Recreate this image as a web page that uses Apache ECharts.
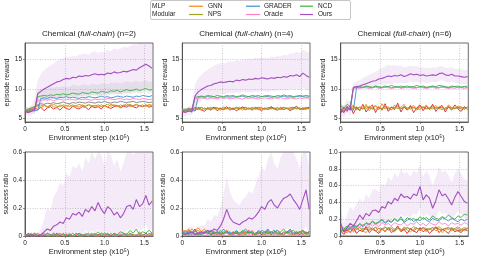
<!DOCTYPE html>
<html><head><meta charset="utf-8">
<script src="https://cdn.jsdelivr.net/npm/echarts@6/dist/echarts.min.js"></script>
<style>html,body{margin:0;padding:0;background:#fff}#c{width:479px;height:260px}</style>
</head><body><div id="c"></div>
<script>
// ---------------- data ----------------
const STEPS = [0,0.04,0.08,0.12,0.16,0.2,0.24,0.28,0.32,0.36,0.4,0.44,0.48,0.52,0.56,0.6,0.64,0.68,0.72,0.76,0.8,0.84,0.88,0.92,0.96,1.0,1.04,1.08,1.12,1.16,1.2,1.24,1.28,1.32,1.36,1.4,1.44,1.48,1.52,1.56,1.6];
const METHODS = ['MLP','Modular','GNN','NPS','GRADER','Oracle','NCD','Ours'];
const X_TICKS = [0, 0.5, 1.0, 1.5];

// episode reward, n=2
const r2_mlp     = [6.4,6.6,6.8,7.0,7.3,7.5,7.4,7.6,7.5,7.7,7.5,7.6,7.8,7.6,7.5,7.7,7.6,7.8,7.7,7.6,7.8,7.7,7.6,7.8,7.7,7.9,7.7,7.6,7.8,7.7,7.9,7.8,7.7,7.8,7.9,7.7,7.8,7.9,7.8,7.7,7.8];
const r2_modular = [6.2,6.0,6.5,6.8,6.5,6.9,6.3,6.8,7.0,6.6,6.9,6.4,7.0,6.7,6.5,7.1,6.8,6.6,7.0,6.9,6.5,7.1,6.8,7.0,6.6,7.2,6.9,6.7,7.0,7.2,6.8,7.1,6.9,7.3,7.0,6.8,7.2,7.0,7.3,6.9,7.1];
const r2_gnn     = [6.4,6.6,6.3,6.9,7.1,6.8,7.2,6.9,7.3,7.0,6.8,7.3,7.1,6.9,7.4,7.0,7.2,6.9,7.3,7.1,7.4,6.9,7.2,7.0,7.3,7.1,6.9,7.4,7.2,7.0,7.3,7.1,7.5,7.0,7.2,7.4,7.1,7.3,7.0,7.4,7.2];
const r2_nps     = [6.5,6.4,6.7,7.0,7.2,7.1,7.3,7.0,7.2,7.4,7.1,7.0,7.3,7.2,7.0,7.3,7.1,7.4,7.2,7.0,7.3,7.2,7.1,7.3,7.0,7.2,7.4,7.1,7.3,7.2,7.0,7.3,7.2,7.4,7.1,7.3,7.2,7.0,7.3,7.1,7.2];
const r2_grader  = [6.4,6.2,6.5,6.3,6.4,8.4,8.5,8.4,8.6,8.5,8.4,8.6,8.5,8.7,8.5,8.6,8.5,8.4,8.6,8.5,8.7,8.6,8.5,8.6,8.8,8.6,8.7,8.5,8.6,8.8,8.7,8.6,8.8,8.7,8.6,8.8,8.7,8.9,8.8,8.7,8.9];
const r2_oracle  = [6.5,6.3,6.6,6.5,8.0,8.1,8.2,8.1,8.2,8.0,8.2,8.3,8.1,8.2,8.3,8.2,8.1,8.3,8.2,8.3,8.2,8.1,8.3,8.2,8.3,8.2,8.4,8.3,8.2,8.3,8.4,8.2,8.3,8.2,8.4,8.3,8.2,8.4,8.3,8.2,8.3];
const r2_ncd     = [6.5,6.3,6.6,6.4,8.7,8.8,8.9,8.8,9.0,8.9,9.1,9.0,9.2,9.0,9.1,9.3,9.2,9.1,9.4,9.3,9.2,9.5,9.4,9.3,9.6,9.5,9.4,9.7,9.6,9.8,9.5,9.7,9.9,9.7,9.8,10.0,9.7,9.9,10.1,9.8,9.9];
const r2_ncd_hi  = [7.0,6.8,7.1,7.0,9.8,10.0,10.1,10.0,10.3,10.2,10.4,10.3,10.5,10.3,10.4,10.7,10.6,10.5,10.8,10.7,10.6,10.9,10.8,10.7,11.0,10.9,10.8,11.1,11.0,11.2,10.9,11.1,11.3,11.1,11.2,11.4,11.1,11.3,11.5,11.2,11.3];
const r2_ncd_lo  = [6.0,5.8,6.1,5.9,8.1,8.2,8.3,8.2,8.4,8.3,8.5,8.4,8.6,8.4,8.5,8.7,8.6,8.5,8.8,8.7,8.6,8.9,8.8,8.7,9.0,8.9,8.8,9.1,9.0,9.2,8.9,9.1,9.3,9.1,9.2,9.4,9.1,9.3,9.5,9.2,9.3];
const r2_ours    = [6.3,6.0,6.2,6.4,9.2,9.6,10.0,10.3,10.6,10.9,11.2,11.3,11.6,11.8,11.7,12.0,11.9,12.2,12.1,12.3,12.2,12.4,12.6,12.4,12.5,12.4,12.7,12.6,12.9,12.7,12.8,13.0,12.9,13.1,13.3,13.2,13.6,13.9,14.2,13.9,13.5];
const r2_ours_hi = [6.8,6.8,7.2,8.5,11.5,12.5,13.2,13.6,14.0,14.3,14.8,15.0,15.2,15.5,15.3,15.6,15.5,15.8,15.9,16.0,15.8,16.2,16.4,16.1,16.3,16.2,16.6,16.4,16.9,16.7,16.8,17.2,17.0,17.3,17.6,17.5,17.8,17.8,17.8,17.8,17.8];
const r2_ours_lo = [5.8,5.4,5.6,5.8,7.2,7.4,7.8,8.0,8.2,8.4,8.5,8.5,8.6,8.8,8.7,8.9,8.7,8.9,8.8,9.0,8.9,9.0,9.1,8.9,9.0,8.9,9.2,9.1,9.3,9.1,9.2,9.4,9.2,9.4,9.6,9.4,9.8,10.0,10.2,9.9,9.6];

// episode reward, n=4
const r4_mlp     = [6.3,6.5,6.7,6.6,6.8,6.7,6.9,6.6,6.8,6.7,6.9,6.8,6.6,6.9,6.7,6.8,6.6,6.9,6.7,6.8,6.9,6.6,6.8,6.7,6.9,6.8,6.6,6.8,6.9,6.7,6.8,6.6,6.9,6.7,6.8,6.9,6.7,6.8,6.6,6.9,6.8];
const r4_modular = [6.0,6.4,6.2,6.7,6.3,6.9,6.5,6.2,6.8,6.4,6.9,6.3,6.7,6.5,7.0,6.4,6.8,6.3,6.6,7.0,6.5,6.8,6.4,6.9,6.6,6.3,6.8,6.5,7.0,6.6,6.4,6.9,6.5,6.8,6.3,6.7,7.1,6.5,6.8,6.6,6.9];
const r4_gnn     = [6.6,6.3,6.8,6.5,6.9,6.6,6.4,6.8,6.5,6.9,6.6,6.8,6.4,6.7,6.6,6.9,6.5,6.7,6.9,6.4,6.8,6.6,6.9,6.5,6.7,6.8,6.5,6.9,6.6,6.8,6.4,6.7,6.9,6.6,6.8,6.5,6.9,6.7,6.5,6.8,6.6];
const r4_nps     = [6.5,6.6,6.4,6.7,6.6,6.5,6.8,6.6,6.7,6.5,6.7,6.6,6.8,6.5,6.7,6.6,6.5,6.8,6.6,6.7,6.5,6.7,6.6,6.8,6.5,6.6,6.7,6.5,6.7,6.6,6.8,6.5,6.6,6.7,6.5,6.8,6.6,6.7,6.5,6.6,6.7];
const r4_grader  = [6.4,6.2,6.5,6.3,6.3,8.6,8.7,8.6,8.7,8.6,8.7,8.5,8.7,8.6,8.7,8.6,8.7,8.6,8.7,8.8,8.6,8.7,8.6,8.7,8.6,8.7,8.8,8.7,8.6,8.7,8.6,8.7,8.8,8.6,8.7,8.6,8.7,8.8,8.7,8.6,8.7];
const r4_oracle  = [6.4,6.3,6.5,6.4,8.3,8.4,8.5,8.4,8.3,8.5,8.4,8.3,8.5,8.4,8.5,8.3,8.4,8.5,8.4,8.3,8.5,8.4,8.5,8.4,8.3,8.4,8.5,8.4,8.3,8.5,8.4,8.5,8.4,8.3,8.5,8.4,8.3,8.5,8.4,8.5,8.4];
const r4_ncd     = [6.5,6.3,6.6,6.5,8.6,8.7,8.8,8.7,8.9,8.8,8.7,8.9,8.8,8.7,8.9,8.8,8.9,8.7,8.8,9.0,8.8,8.7,8.9,8.8,8.9,8.7,8.8,8.9,8.8,8.7,8.9,8.8,9.0,8.8,8.9,8.7,8.8,8.9,8.8,8.9,8.8];
const r4_ours    = [6.2,6.0,6.3,6.1,8.8,9.5,9.9,10.2,10.5,10.6,10.9,11.0,11.2,11.1,11.2,11.3,11.2,11.5,11.4,11.6,11.5,11.7,11.6,11.8,11.7,11.9,11.8,11.7,11.9,11.8,12.0,11.9,12.1,12.0,12.3,12.2,12.4,12.1,12.7,12.3,12.0];
const r4_ours_hi = [6.9,6.7,7.0,7.2,10.8,11.8,12.4,12.9,13.3,13.6,14.0,14.2,14.4,14.3,14.5,14.7,14.6,14.9,14.8,15.0,14.9,15.2,15.1,15.3,15.2,15.4,15.3,15.2,15.5,15.4,15.6,15.5,15.8,15.7,16.0,16.0,16.3,16.1,16.6,16.4,16.2];
const r4_ours_lo = [5.6,5.4,5.7,5.5,7.0,7.6,8.0,8.3,8.6,8.7,8.9,9.0,9.2,9.1,9.2,9.3,9.2,9.4,9.3,9.5,9.4,9.5,9.4,9.6,9.5,9.7,9.6,9.5,9.7,9.6,9.8,9.7,9.8,9.7,10.0,9.9,10.0,9.8,10.2,9.9,9.7];

// episode reward, n=6
const r6_mlp     = [6.6,6.9,6.5,6.8,7.0,6.7,6.9,6.6,7.0,6.8,6.6,7.1,6.8,6.7,7.0,6.6,6.9,6.8,7.1,6.7,6.9,6.6,7.0,6.8,6.7,7.0,6.9,6.6,6.8,7.1,6.7,6.9,6.8,6.6,7.0,6.8,6.7,6.9,6.6,6.8,6.9];
const r6_modular = [5.9,6.8,6.2,7.2,5.8,6.9,6.3,7.4,6.1,6.8,7.3,6.0,7.0,6.4,7.5,6.2,6.9,6.5,7.6,6.1,7.0,6.4,7.2,6.0,6.8,7.3,6.3,7.1,6.5,7.4,6.2,6.9,7.2,6.1,7.0,6.4,7.3,6.6,6.2,7.0,6.5];
const r6_gnn     = [6.8,6.2,7.1,6.5,7.3,6.4,7.0,6.6,7.4,6.3,6.9,7.2,6.5,7.5,6.6,7.0,6.4,7.3,6.7,6.9,7.4,6.5,6.8,7.2,6.4,7.0,6.7,7.3,6.5,6.9,7.2,6.6,7.0,6.5,7.3,6.8,6.6,7.1,6.9,6.5,7.0];
const r6_nps     = [6.5,6.8,6.4,6.9,6.6,7.0,6.5,6.8,6.6,7.1,6.7,6.5,6.9,6.6,7.0,6.8,6.5,6.9,6.7,6.6,7.0,6.8,6.6,6.9,6.7,6.5,7.0,6.7,6.8,6.6,6.9,6.7,6.5,6.8,6.9,6.6,6.8,6.7,7.0,6.6,6.8];
const r6_grader  = [6.6,6.3,6.8,6.5,6.4,10.2,10.3,10.2,10.4,10.3,10.2,10.4,10.3,10.2,10.3,10.4,10.2,10.3,10.4,10.2,10.3,10.2,10.4,10.3,10.2,10.4,10.3,10.2,10.3,10.4,10.3,10.2,10.4,10.3,10.2,10.3,10.4,10.2,10.3,10.4,10.2];
const r6_oracle  = [6.8,6.5,7.0,6.7,10.1,10.2,10.1,10.3,10.2,10.1,10.2,10.3,10.1,10.2,10.3,10.2,10.1,10.2,10.3,10.1,10.2,10.3,10.2,10.1,10.2,10.3,10.2,10.1,10.2,10.3,10.1,10.2,10.3,10.2,10.1,10.2,10.1,10.3,10.2,10.1,10.2];
const r6_ncd     = [7.2,6.8,7.4,7.0,10.2,10.3,10.4,10.3,10.5,10.4,10.3,10.5,10.4,10.3,10.5,10.4,10.6,10.4,10.3,10.5,10.4,10.5,10.3,10.4,10.6,10.4,10.5,10.3,10.4,10.5,10.4,10.6,10.5,10.4,10.3,10.5,10.4,10.5,10.3,10.4,10.5];
const r6_ours    = [6.5,6.0,7.0,6.4,10.3,10.4,10.5,10.7,10.9,11.1,11.3,11.4,11.7,11.8,12.0,12.2,12.1,12.3,12.2,12.4,12.1,12.3,12.6,12.4,12.5,12.3,12.4,12.2,12.3,12.4,12.3,12.6,12.7,12.4,12.3,12.5,12.2,12.2,12.1,12.0,12.1];
const r6_ours_hi = [7.5,7.2,8.2,7.8,11.0,11.2,11.5,11.8,12.1,12.4,12.7,12.9,13.3,13.5,13.8,14.1,13.9,14.1,13.9,14.0,13.7,13.8,14.0,13.8,13.9,13.6,13.7,13.5,13.6,13.7,13.6,13.8,13.9,13.6,13.5,13.7,13.4,13.4,13.3,13.2,13.3];
const r6_ours_lo = [5.6,5.2,6.0,5.4,9.8,9.9,10.0,10.1,10.2,10.3,10.5,10.5,10.7,10.7,10.8,10.9,10.8,11.0,10.9,11.1,10.9,11.0,11.3,11.1,11.2,11.0,11.1,11.0,11.1,11.2,11.1,11.4,11.5,11.2,11.1,11.3,11.0,11.0,10.9,10.8,10.9];

// success ratio, n=2
const s2_mlp     = [0,0,0.01,0,0,0.01,0,0,0,0.01,0,0,0.01,0,0,0,0.01,0,0,0,0.01,0,0,0.01,0,0,0,0.01,0,0,0.01,0,0,0,0.01,0,0,0.01,0,0,0];
const s2_modular = [0,0.02,0,0.01,0,0,0.02,0,0.01,0,0.02,0,0,0.01,0,0.02,0,0,0.01,0,0,0.02,0,0.01,0,0,0.02,0,0.01,0,0,0.01,0,0.02,0,0.01,0,0,0.02,0,0.01];
const s2_gnn     = [0.01,0,0,0.02,0.01,0,0,0.01,0,0.02,0,0,0.01,0,0.02,0,0.01,0,0,0.02,0,0.01,0,0,0.02,0.01,0,0,0.02,0,0.01,0,0,0.02,0.01,0,0.02,0,0,0.01,0.02];
const s2_nps     = [0,0.01,0.02,0,0,0.01,0,0.02,0,0,0.01,0.02,0,0,0.01,0,0,0.02,0.01,0,0,0.01,0.02,0,0,0.01,0,0.02,0,0.01,0,0,0.02,0,0.01,0,0.03,0.01,0,0.02,0.01];
const s2_grader  = [0,0,0.01,0,0.02,0,0.01,0,0,0.02,0,0.01,0,0,0.01,0,0,0.02,0,0.01,0,0,0.01,0,0.02,0,0.01,0,0,0.01,0,0.02,0,0.01,0,0,0.01,0,0.02,0,0.01];
const s2_oracle  = [0,0.01,0,0,0.01,0,0.02,0,0.01,0,0,0.01,0,0.02,0,0,0.01,0,0,0.01,0,0.02,0,0,0.01,0,0,0.01,0,0,0.02,0,0.01,0,0,0.01,0,0,0.01,0,0];
const s2_ncd     = [0,0.01,0,0.02,0,0.01,0,0.02,0.01,0,0.01,0,0.02,0,0.01,0,0.02,0.01,0,0.01,0.02,0,0.01,0.03,0,0.02,0.01,0,0.02,0.01,0.03,0.02,0.01,0.04,0.02,0.05,0.01,0.03,0.02,0.04,0.02];
const s2_ours    = [0,0,0.01,0,0,0.01,0.03,0.05,0.04,0.07,0.08,0.10,0.09,0.13,0.12,0.16,0.15,0.17,0.14,0.19,0.17,0.21,0.18,0.24,0.19,0.16,0.21,0.19,0.15,0.17,0.13,0.16,0.21,0.22,0.19,0.26,0.21,0.23,0.29,0.22,0.25];
const s2_ours_hi = [0,0,0.02,0.01,0.02,0.05,0.12,0.2,0.18,0.28,0.32,0.38,0.36,0.45,0.42,0.5,0.48,0.52,0.46,0.56,0.52,0.6,0.55,0.6,0.58,0.5,0.6,0.58,0.5,0.55,0.46,0.52,0.6,0.6,0.58,0.6,0.6,0.6,0.6,0.6,0.6];
const s2_ours_lo = [0,0,0,0,0,0,0,0,0,0,0,0.01,0,0.02,0.01,0.03,0.02,0.03,0.01,0.04,0.02,0.04,0.02,0.05,0.02,0.01,0.03,0.02,0.01,0.02,0.01,0.02,0.04,0.05,0.03,0.06,0.04,0.05,0.08,0.04,0.06];

// success ratio, n=4
const s4_mlp     = [0.02,0.01,0.03,0.02,0.01,0.02,0.01,0.02,0.03,0.01,0.02,0.01,0.02,0.01,0.03,0.02,0.01,0.02,0.01,0.02,0.01,0.03,0.02,0.01,0.02,0.01,0.02,0.03,0.01,0.02,0.01,0.02,0.01,0.03,0.02,0.01,0.02,0.01,0.02,0.03,0.01];
const s4_modular = [0.03,0.01,0.04,0.02,0.05,0.01,0.03,0.02,0.04,0.01,0.02,0.03,0.01,0.02,0.04,0.01,0.03,0.02,0.01,0.03,0.02,0.04,0.01,0.02,0.03,0.01,0.02,0.04,0.01,0.03,0.02,0.01,0.03,0.02,0.04,0.01,0.02,0.03,0.01,0.02,0.03];
const s4_gnn     = [0.04,0.03,0.05,0.02,0.04,0.06,0.03,0.05,0.02,0.04,0.03,0.01,0.03,0.02,0.04,0.02,0.01,0.03,0.02,0.01,0.03,0.02,0.04,0.01,0.02,0.03,0.01,0.02,0.03,0.01,0.04,0.02,0.01,0.03,0.02,0.01,0.03,0.02,0.04,0.01,0.02];
const s4_nps     = [0.03,0.04,0.02,0.05,0.03,0.04,0.02,0.03,0.04,0.02,0.03,0.02,0.01,0.03,0.02,0.01,0.02,0.03,0.01,0.02,0.01,0.03,0.02,0.01,0.02,0.03,0.01,0.02,0.01,0.03,0.02,0.01,0.02,0.03,0.01,0.02,0.01,0.02,0.03,0.01,0.02];
const s4_grader  = [0.01,0.03,0.02,0.01,0.04,0.02,0.01,0.03,0.02,0.04,0.01,0.03,0.02,0.05,0.02,0.03,0.01,0.04,0.02,0.03,0.05,0.02,0.03,0.01,0.04,0.02,0.03,0.05,0.02,0.03,0.04,0.02,0.01,0.03,0.05,0.02,0.03,0.01,0.04,0.02,0.03];
const s4_oracle  = [0.01,0,0.01,0.02,0,0.01,0,0.02,0.01,0,0.01,0.02,0,0.01,0.02,0,0.01,0,0.02,0.01,0,0.01,0.02,0,0.01,0,0.02,0.01,0,0.01,0.02,0,0.01,0.02,0,0.01,0,0.02,0.01,0,0.01];
const s4_ncd     = [0.01,0.02,0.01,0.03,0.02,0.01,0.02,0.03,0.02,0.01,0.03,0.02,0.04,0.02,0.03,0.01,0.02,0.03,0.02,0.04,0.03,0.02,0.03,0.01,0.02,0.04,0.03,0.02,0.03,0.04,0.02,0.03,0.05,0.02,0.03,0.04,0.02,0.03,0.04,0.02,0.03];
const s4_ours    = [0.02,0.01,0.02,0.03,0.01,0.02,0.03,0.02,0.04,0.03,0.05,0.04,0.07,0.12,0.19,0.13,0.10,0.09,0.08,0.10,0.11,0.13,0.12,0.14,0.17,0.21,0.19,0.24,0.26,0.22,0.20,0.24,0.27,0.28,0.30,0.26,0.23,0.19,0.26,0.33,0.19];
const s4_ours_hi = [0.05,0.04,0.06,0.07,0.05,0.06,0.08,0.07,0.12,0.1,0.15,0.14,0.2,0.3,0.42,0.32,0.26,0.24,0.22,0.26,0.28,0.32,0.3,0.36,0.42,0.5,0.46,0.55,0.6,0.52,0.48,0.56,0.6,0.6,0.6,0.6,0.55,0.48,0.6,0.6,0.5];
const s4_ours_lo = [0,0,0,0,0,0,0,0,0,0,0,0,0,0.01,0.03,0.01,0,0,0,0,0.01,0.01,0.01,0.01,0.02,0.03,0.02,0.04,0.05,0.03,0.02,0.04,0.05,0.05,0.06,0.04,0.03,0.02,0.04,0.07,0.02];

// success ratio, n=6
const s6_mlp     = [0.05,0.08,0.06,0.09,0.07,0.1,0.06,0.09,0.08,0.07,0.1,0.06,0.09,0.08,0.11,0.07,0.09,0.06,0.1,0.08,0.07,0.1,0.08,0.06,0.09,0.08,0.1,0.07,0.09,0.06,0.1,0.08,0.07,0.09,0.08,0.1,0.07,0.09,0.06,0.08,0.09];
const s6_modular = [0.06,0.02,0.08,0.04,0.1,0.03,0.07,0.05,0.11,0.04,0.08,0.06,0.03,0.09,0.05,0.1,0.04,0.07,0.12,0.05,0.08,0.03,0.09,0.06,0.04,0.1,0.05,0.08,0.03,0.07,0.11,0.04,0.08,0.06,0.03,0.09,0.05,0.07,0.04,0.08,0.06];
const s6_gnn     = [0.12,0.06,0.04,0.09,0.05,0.08,0.1,0.06,0.04,0.09,0.07,0.11,0.05,0.08,0.06,0.1,0.07,0.05,0.09,0.06,0.11,0.07,0.05,0.08,0.1,0.06,0.09,0.05,0.08,0.1,0.06,0.09,0.04,0.08,0.1,0.06,0.09,0.05,0.08,0.06,0.09];
const s6_nps     = [0.08,0.1,0.07,0.09,0.11,0.08,0.1,0.07,0.09,0.11,0.08,0.1,0.09,0.07,0.1,0.09,0.11,0.08,0.1,0.07,0.09,0.1,0.08,0.11,0.09,0.07,0.1,0.09,0.08,0.1,0.09,0.11,0.08,0.09,0.1,0.08,0.09,0.11,0.08,0.1,0.09];
const s6_grader  = [0.08,0.05,0.1,0.08,0.12,0.1,0.14,0.11,0.15,0.13,0.17,0.14,0.16,0.19,0.15,0.18,0.16,0.2,0.17,0.23,0.16,0.19,0.21,0.17,0.2,0.18,0.22,0.19,0.17,0.21,0.19,0.18,0.22,0.2,0.18,0.21,0.19,0.17,0.2,0.18,0.2];
const s6_oracle  = [0.1,0.06,0.09,0.12,0.08,0.13,0.1,0.14,0.11,0.15,0.12,0.14,0.11,0.16,0.13,0.15,0.12,0.16,0.14,0.13,0.16,0.12,0.15,0.14,0.17,0.13,0.15,0.12,0.16,0.14,0.13,0.17,0.14,0.15,0.12,0.16,0.14,0.15,0.13,0.16,0.14];
const s6_ncd     = [0.05,0.08,0.12,0.1,0.13,0.11,0.15,0.12,0.16,0.14,0.18,0.15,0.17,0.2,0.16,0.19,0.17,0.21,0.18,0.2,0.17,0.22,0.19,0.21,0.18,0.23,0.2,0.22,0.19,0.24,0.21,0.2,0.23,0.21,0.25,0.22,0.2,0.24,0.22,0.26,0.25];
const s6_ours    = [0.15,0.05,0.10,0.15,0.12,0.18,0.25,0.20,0.27,0.24,0.30,0.31,0.28,0.35,0.33,0.41,0.38,0.45,0.42,0.50,0.46,0.47,0.44,0.50,0.48,0.59,0.43,0.49,0.45,0.33,0.42,0.55,0.48,0.50,0.44,0.37,0.46,0.53,0.47,0.41,0.39];
const s6_ours_hi = [0.3,0.15,0.25,0.35,0.3,0.38,0.45,0.4,0.5,0.45,0.55,0.56,0.52,0.62,0.6,0.7,0.66,0.75,0.7,0.8,0.74,0.76,0.7,0.78,0.75,0.85,0.7,0.78,0.72,0.6,0.7,0.82,0.76,0.78,0.72,0.64,0.74,0.8,0.74,0.68,0.66];
const s6_ours_lo = [0.03,0,0.02,0.04,0.03,0.06,0.1,0.07,0.11,0.09,0.13,0.14,0.12,0.16,0.15,0.2,0.18,0.22,0.2,0.26,0.23,0.24,0.22,0.27,0.25,0.34,0.22,0.27,0.24,0.15,0.22,0.31,0.26,0.28,0.23,0.18,0.25,0.3,0.26,0.21,0.2];

// ---------------- assembly ----------------
const COLORS = {MLP:'#7f7f7f', Modular:'#d62728', GNN:'#ff7f0e', NPS:'#a3a322', GRADER:'#3a8fd0', Oracle:'#ff80c8', NCD:'#3db045', Ours:'#a44fc0'};
const BAND = 'rgba(170,90,200,0.13)';
const BAND_NCD = 'rgba(120,150,120,0.13)';

const SETS = [
  {title:'(n=2)', kind:'r', lines:[r2_mlp,r2_modular,r2_gnn,r2_nps,r2_grader,r2_oracle,r2_ncd,r2_ours], hi:r2_ours_hi, lo:r2_ours_lo, hi2:r2_ncd_hi, lo2:r2_ncd_lo},
  {title:'(n=4)', kind:'r', lines:[r4_mlp,r4_modular,r4_gnn,r4_nps,r4_grader,r4_oracle,r4_ncd,r4_ours], hi:r4_ours_hi, lo:r4_ours_lo},
  {title:'(n=6)', kind:'r', lines:[r6_mlp,r6_modular,r6_gnn,r6_nps,r6_grader,r6_oracle,r6_ncd,r6_ours], hi:r6_ours_hi, lo:r6_ours_lo},
  {kind:'s', ymax:0.6, lines:[s2_mlp,s2_modular,s2_gnn,s2_nps,s2_grader,s2_oracle,s2_ncd,s2_ours], hi:s2_ours_hi, lo:s2_ours_lo},
  {kind:'s', ymax:0.6, lines:[s4_mlp,s4_modular,s4_gnn,s4_nps,s4_grader,s4_oracle,s4_ncd,s4_ours], hi:s4_ours_hi, lo:s4_ours_lo},
  {kind:'s', ymax:1.0, lines:[s6_mlp,s6_modular,s6_gnn,s6_nps,s6_grader,s6_oracle,s6_ncd,s6_ours], hi:s6_ours_hi, lo:s6_ours_lo}
];
SETS.forEach((s,i)=>{ [...s.lines, s.hi, s.lo].concat(s.hi2?[s.hi2,s.lo2]:[]).forEach((a,j)=>{ if(a.length!==STEPS.length) throw new Error('length mismatch set '+i+' arr '+j+': '+a.length); }); });

// layout (pixels)
const LAYOUT = [
  {left:25, top:43, width:128, height:79},
  {left:182.3, top:43, width:127.7, height:79},
  {left:340.7, top:43, width:127.6, height:79},
  {left:25, top:152, width:128, height:84},
  {left:182.3, top:152, width:127.7, height:84},
  {left:340.7, top:152, width:127.6, height:84}
];
const FONT = 'Liberation Sans, Arial, sans-serif';
const TXT = '#222';

function bandSeries(i, hi, lo, color) {
  return {type:'custom', xAxisIndex:i, yAxisIndex:i, clip:true, silent:true, z:1,
    data: STEPS.map((x,k)=>[x, lo[k], hi[k]]),
    renderItem:(params, api)=>{
      if (params.dataIndex!==0) return null;
      const up = STEPS.map((x,k)=>api.coord([x, hi[k]]));
      const dn = STEPS.map((x,k)=>api.coord([x, lo[k]])).reverse();
      return {type:'polygon', shape:{points: up.concat(dn)}, style:{fill:color}};
    }
  };
}

const grids=[], xAxes=[], yAxes=[], series=[], titles=[];
SETS.forEach((s,i)=>{
  const L = LAYOUT[i];
  grids.push({left:L.left, top:L.top, width:L.width, height:L.height, show:true, borderColor:'#444', borderWidth:0.8, backgroundColor:'transparent'});
  xAxes.push({type:'value', gridIndex:i, min:0, max:1.61, interval:0.5,
    name:'Environment step (x10\u2075)', nameLocation:'middle', nameGap: s.kind==='r'?12:9,
    nameTextStyle:{fontSize:7.5, color:TXT, fontFamily:FONT},
    axisLine:{show:true, lineStyle:{color:'#444', width:0.8}},
    axisTick:{show:true, length:2, lineStyle:{color:'#444', width:0.6}},
    axisLabel:{fontSize:6.5, color:TXT, fontFamily:FONT, margin:4, showMaxLabel:false,
      formatter:v=> X_TICKS.includes(+v.toFixed(2)) ? (v===0?'0':v.toFixed(1)) : ''},
    splitLine:{show:true, showMinLine:false, showMaxLine:false, lineStyle:{color:'#b5b5b5', width:0.7, type:[1,1.5]}}
  });
  const y = {type:'value', gridIndex:i,
    name: s.kind==='r' ? 'episode reward' : 'success ratio', nameLocation:'middle', nameGap:14,
    nameTextStyle:{fontSize:7, color:TXT, fontFamily:FONT},
    axisLine:{show:true, lineStyle:{color:'#444', width:0.8}},
    axisTick:{show:true, length:2, lineStyle:{color:'#444', width:0.6}},
    axisLabel:{fontSize:6.5, color:TXT, fontFamily:FONT, margin:3, showMinLabel: s.kind!=='r', showMaxLabel: s.kind!=='r',
      formatter: s.kind==='r' ? (v=>String(Math.round(v))) : (v=> v===0?'0':v.toFixed(1))},
    splitLine:{show:true, showMinLine:false, showMaxLine:false, lineStyle:{color:'#b5b5b5', width:0.7, type:[1,1.5]}}
  };
  if (s.kind==='r') { y.min=4.4; y.max=17.8; y.splitNumber=3; }
  else { y.min=0; y.max=s.ymax; y.interval=0.2; }
  yAxes.push(y);

  if (s.hi2) series.push(bandSeries(i, s.hi2, s.lo2, BAND_NCD));
  series.push(bandSeries(i, s.hi, s.lo, BAND));
  METHODS.forEach((m,j)=>{
    series.push({type:'line', name:m, xAxisIndex:i, yAxisIndex:i, symbol:'none', showSymbol:false, silent:true,
      z: 2 + j, data: STEPS.map((x,k)=>[x, s.lines[j][k]]),
      lineStyle:{color:COLORS[m], width: m==='Ours'?1.1:0.9}, itemStyle:{color:COLORS[m]}});
  });
  if (s.title) {
    titles.push({text:'{n|Chemical (}{i|full-chain}{n|) '+s.title+'}', left:L.left+L.width/2, top:30, textAlign:'center', padding:0,
      textStyle:{fontWeight:'normal', rich:{n:{fontSize:8, color:TXT, fontFamily:FONT, fontWeight:'normal'}, i:{fontSize:8, color:TXT, fontFamily:FONT, fontStyle:'italic', fontWeight:'normal'}}}});
  }
});

// legend box (drawn as graphic)
const LEG = [
  {m:'MLP', x:152, y:6.2, h:null}, {m:'Modular', x:152, y:14.5, h:null},
  {m:'GNN', x:208, y:6.2, h:[189,203]}, {m:'NPS', x:208, y:14.5, h:[189,203]},
  {m:'GRADER', x:264, y:6.2, h:[246,260]}, {m:'Oracle', x:264, y:14.5, h:[246,260]},
  {m:'NCD', x:318, y:6.2, h:[300,313]}, {m:'Ours', x:318, y:14.5, h:[300,313]}
];
const graphic = [{type:'rect', shape:{x:150.5, y:0.5, width:200, height:19, r:1.5}, style:{fill:'#fff', stroke:'#b8b8b8', lineWidth:0.8}, z:10}];
LEG.forEach(e=>{
  graphic.push({type:'text', x:e.x, y:e.y, z:11, style:{text:e.m, fontSize:6.5, fontFamily:FONT, fill:TXT, verticalAlign:'middle', align:'left'}});
  if (e.h) graphic.push({type:'line', z:11, shape:{x1:e.h[0], y1:e.y, x2:e.h[1], y2:e.y}, style:{stroke:COLORS[e.m], lineWidth:1.2}});
});

const chart = echarts.init(document.getElementById('c'), null, {renderer:'canvas'});
chart.setOption({animation:false, backgroundColor:'#fff', title:titles, grid:grids, xAxis:xAxes, yAxis:yAxes, series, graphic});
</script></body></html>
